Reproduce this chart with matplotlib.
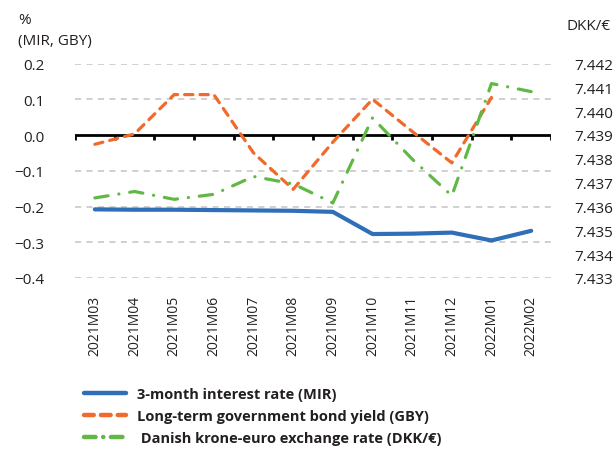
import numpy as np
import matplotlib
matplotlib.use("Agg")
import matplotlib.pyplot as plt
from matplotlib.lines import Line2D

plt.rcParams["font.family"] = ["Open Sans", "DejaVu Sans"]

# data
MONTHS = ["2021M03", "2021M04", "2021M05", "2021M06", "2021M07", "2021M08",
          "2021M09", "2021M10", "2021M11", "2021M12", "2022M01", "2022M02"]
MIR = [-0.208, -0.209, -0.209, -0.210, -0.211, -0.212,
       -0.215, -0.277, -0.276, -0.273, -0.295, -0.268]
GBY = [-0.026, 0.003, 0.113, 0.113, -0.050, -0.152,
       -0.020, 0.100, 0.010, -0.078, 0.105, np.nan]
DKK = [7.43636, 7.43663, 7.43630, 7.43651, 7.43726, 7.43695,
       7.43615, 7.43972, 7.43799, 7.43645, 7.44116, 7.44082]
LEFT_TICKS = [0.2, 0.1, 0.0, -0.1, -0.2, -0.3, -0.4]
RIGHT_TICKS = [7.442, 7.441, 7.440, 7.439, 7.438, 7.437, 7.436, 7.435, 7.434, 7.433]

BLUE = "#2f6fb7"
ORANGE = "#f26a2b"
GREEN = "#62b846"
TXT = "#231f20"
GRID = "#c4c4c4"

LABELS = ["3-month interest rate (MIR)",
          "Long-term government bond yield (GBY)",
          " Danish krone-euro exchange rate (DKK/\u20ac)"]

W, H = 616, 452
fig = plt.figure(figsize=(W / 100, H / 100), dpi=100)
ax = fig.add_axes([75 / W, 1 - 279 / H, 476 / W, 214.5 / H])
ax2 = ax.twinx()

x = np.arange(len(MONTHS))

# grid + zero line
for v in LEFT_TICKS:
    if v != 0:
        ax.axhline(v, color=GRID, lw=1.1, dashes=(4, 3.5), zorder=0)
ax.axhline(0, color="black", lw=2, zorder=1)
# tick marks on the zero line at category boundaries
ax.vlines(np.arange(len(MONTHS) + 1) - 0.5, -0.013, 0, color="black", lw=2, zorder=1)

ax.plot(x, MIR, color=BLUE, lw=3, solid_capstyle="round", zorder=3)
ax.plot(x, GBY, color=ORANGE, lw=2.3, dashes=(2.6, 2.2), dash_capstyle="round", zorder=3)
ax2.plot(x, DKK, color=GREEN, lw=2.3, dashes=(4.2, 3.4, 0.05, 3.4),
         dash_capstyle="round", zorder=3)

ax.set_xlim(-0.5, len(MONTHS) - 0.5)
ax.set_ylim(-0.4, 0.2)
ax2.set_ylim(7.433, 7.442)

ax.set_yticks(LEFT_TICKS)
ax.set_yticklabels([f"{v:.1f}".replace("-", "\u2212") for v in LEFT_TICKS])
ax2.set_yticks(RIGHT_TICKS)
ax2.set_yticklabels([f"{v:.3f}" for v in RIGHT_TICKS])
ax.set_xticks(x)
ax.set_xticklabels(MONTHS, rotation=90, va="top", ha="center")

ax.tick_params(axis="y", length=0, pad=22, labelsize=11, labelcolor=TXT)
ax2.tick_params(axis="y", length=0, pad=17, labelsize=11, labelcolor=TXT)
ax.tick_params(axis="x", length=0, pad=12, labelsize=10, labelcolor=TXT)
for a in (ax, ax2):
    for s in a.spines.values():
        s.set_visible(False)

fig.text(18 / W, 1 - 21 / H, "%", fontsize=11, color=TXT, va="center", ha="left")
fig.text(18 / W, 1 - 42 / H, "(MIR, GBY)", fontsize=11, color=TXT, va="center", ha="left")
fig.text(567 / W, 1 - 26 / H, "DKK/\u20ac", fontsize=11, color=TXT, va="center", ha="left")

handles = [
    Line2D([], [], color=BLUE, lw=3.2, solid_capstyle="round"),
    Line2D([], [], color=ORANGE, lw=3.2, dashes=(2.2, 1.6), dash_capstyle="round"),
    Line2D([], [], color=GREEN, lw=3.2, dashes=(2.6, 1.7, 0.05, 1.7), dash_capstyle="round"),
]
leg = fig.legend(handles, LABELS, loc="upper left",
                 bbox_to_anchor=(84 / W, 1 - 388 / H),
                 frameon=False, borderpad=0, borderaxespad=0,
                 handlelength=2.9, handletextpad=0.75, labelspacing=0.55,
                 prop={"weight": "bold", "size": 10.5})
for t in leg.get_texts():
    t.set_color(TXT)

fig.savefig("out.png", dpi=100)
